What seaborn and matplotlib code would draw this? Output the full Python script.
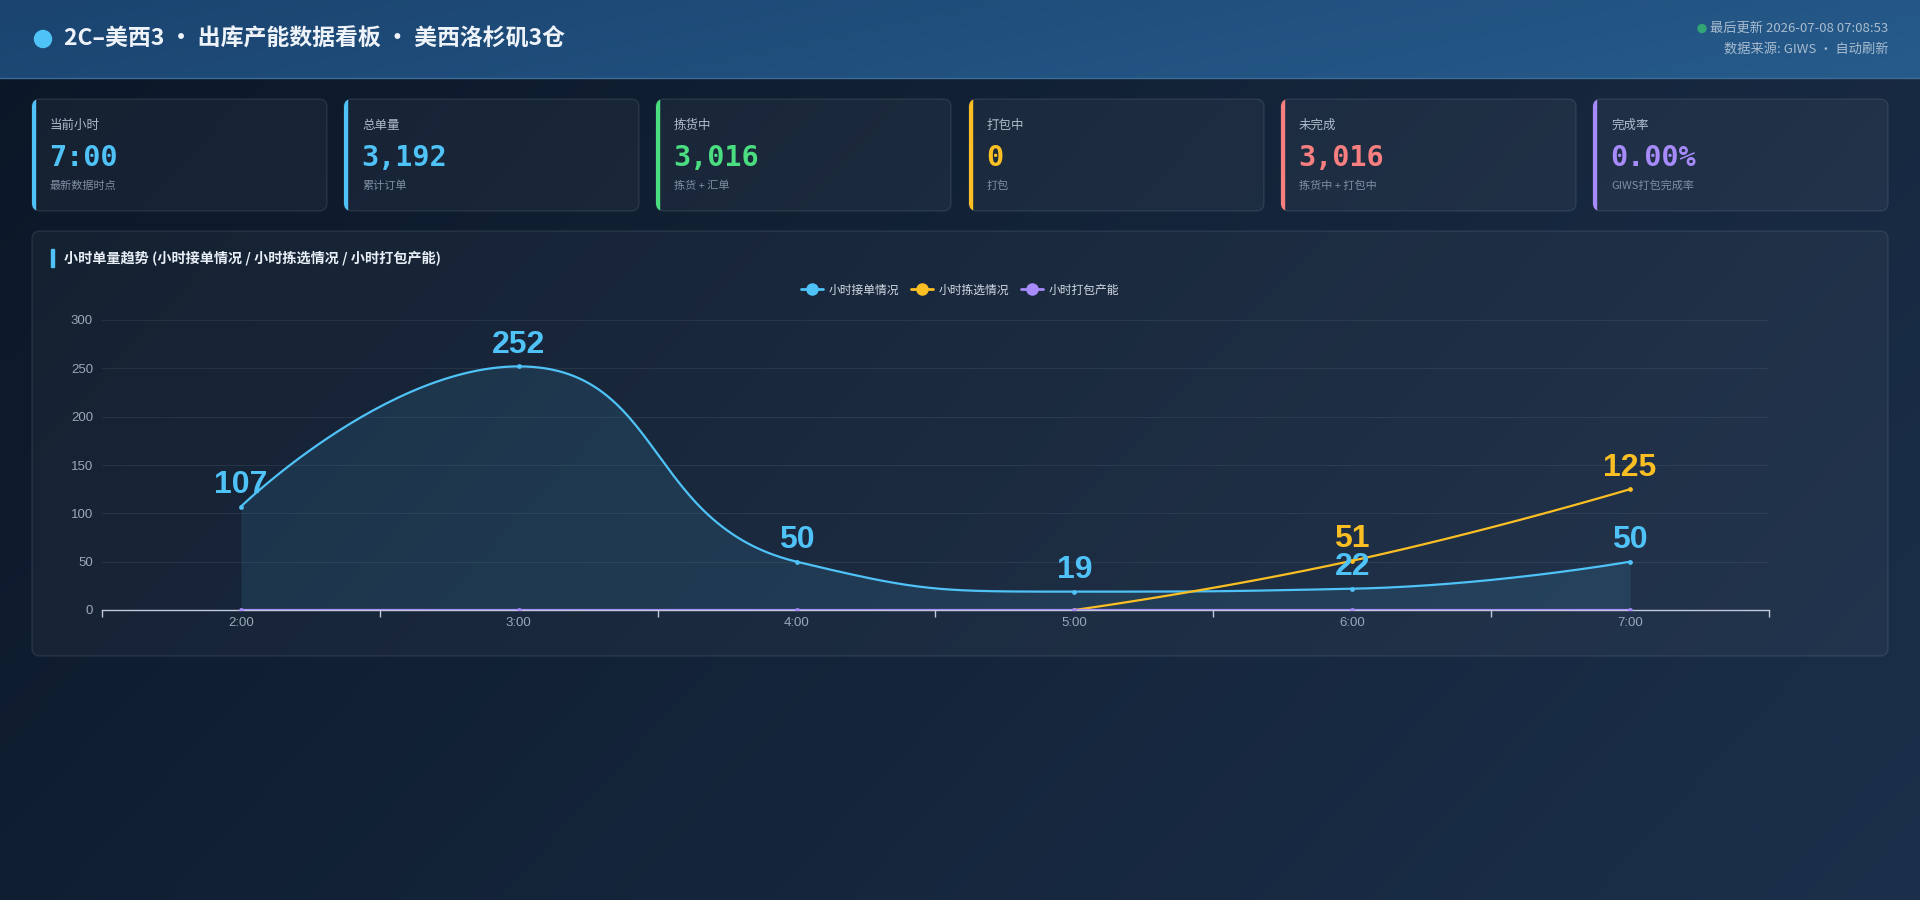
import math
import numpy as np
import pandas as pd
import matplotlib
matplotlib.use("Agg")
import matplotlib.pyplot as plt
import seaborn as sns
from matplotlib.patches import FancyBboxPatch, Rectangle, Circle
from matplotlib.lines import Line2D
from matplotlib.colors import to_rgb

# ---------------- data ----------------
hours = ["2:00", "3:00", "4:00", "5:00", "6:00", "7:00"]
orders_received = [107, 252, 50, 19, 22, 50]          # 小时接单情况
orders_picked = [None, None, None, 0, 51, 125]         # 小时拣选情况
orders_packed = [0, 0, 0, 0, 0, 0]                     # 小时打包产能
series_names = ["小时接单情况", "小时拣选情况", "小时打包产能"]
series_colors = ["#4fc3f7", "#fbbf24", "#a78bfa"]

kpi_titles = ["当前小时", "总单量", "拣货中", "打包中", "未完成", "完成率"]
kpi_values = ["7:00", "3,192", "3,016", "0", "3,016", "0.00%"]
kpi_notes = ["最新数据时点", "累计订单", "拣货 + 汇单", "打包", "拣货中 + 打包中", "GIWS打包完成率"]
kpi_colors = ["#4fc3f7", "#4fc3f7", "#4ade80", "#fbbf24", "#f87f7f", "#a78bfa"]

title_text = "2C–美西3 · 出库产能数据看板 · 美西洛杉矶3仓"
update_text = "最后更新 2026-07-08 07:08:53"
source_text = "数据来源: GIWS · 自动刷新"
panel_title = "小时单量趋势 (小时接单情况 / 小时拣选情况 / 小时打包产能)"
y_ticks = [0, 50, 100, 150, 200, 250, 300]

# ---------------- theme ----------------
sns.set_theme(style="dark")
plt.rcParams["font.family"] = ["Noto Sans CJK SC", "DejaVu Sans"]

W, H = 1920, 900
fig = plt.figure(figsize=(W / 100, H / 100), dpi=100)

# background layer in pixel coordinates
bg = fig.add_axes([0, 0, 1, 1])
bg.set_xlim(0, W)
bg.set_ylim(H, 0)
bg.set_axis_off()

def lerp_img(c0, c1, t):
    c0 = np.array(to_rgb(c0)); c1 = np.array(to_rgb(c1))
    return c0[None, None, :] * (1 - t[..., None]) + c1[None, None, :] * t[..., None]

gx, gy = np.meshgrid(np.linspace(0, 1, 240), np.linspace(0, 1, 120))
page = lerp_img("#0b1727", "#1c304b", np.clip(0.7 * gx + 0.3 * gy, 0, 1))
bg.imshow(page, extent=(0, W, H, 0), aspect="auto", zorder=0, interpolation="bicubic")
hx, hy = np.meshgrid(np.linspace(0, 1, 240), np.linspace(0, 1, 10))
head = lerp_img("#1b4470", "#265b8b", np.clip(0.85 * hx + 0.15 * hy, 0, 1))
bg.imshow(head, extent=(0, W, 78, 0), aspect="auto", zorder=1, interpolation="bicubic")
bg.plot([0, W], [78, 78], color="#3d6c96", lw=1, zorder=2)

# header
bg.add_patch(Circle((43, 39), 8.5, color="#4fc3f7", zorder=3))
bg.text(64, 39, title_text, fontsize=16.5, fontweight="bold", color="#eef3f9",
        va="center", ha="left", zorder=3)
bg.text(1888, 28, update_text, fontsize=9.5, color="#a9bccf", va="center", ha="right", zorder=3)
bg.add_patch(Circle((1702, 28.5), 4, color="#33a474", zorder=3))
bg.text(1888, 49.5, source_text, fontsize=9.5, color="#a9bccf", va="center", ha="right", zorder=3)

# KPI cards
card_x = [32, 344, 656, 969, 1281, 1593]
card_w, card_top, card_h = 295, 99, 112
for x0, t, v, n, c in zip(card_x, kpi_titles, kpi_values, kpi_notes, kpi_colors):
    card = FancyBboxPatch((x0, card_top), card_w, card_h,
                          boxstyle="round,pad=0,rounding_size=8",
                          facecolor=(1, 1, 1, 0.045), edgecolor=(1, 1, 1, 0.09),
                          lw=1, zorder=3)
    bg.add_patch(card)
    acc = Rectangle((x0 - 1, card_top - 1), 4, card_h + 2, color=c, zorder=4)
    bg.add_patch(acc)
    acc.set_clip_path(card)
    bg.text(x0 + 18, 125, t, fontsize=9, color="#aebbcb", va="center", ha="left", zorder=5)
    bg.text(x0 + 17, 157.5, v, fontsize=20.5, color=c, fontweight="bold",
            family=["DejaVu Sans Mono"], va="center", ha="left", zorder=5)
    bg.text(x0 + 18, 186, n, fontsize=8, color="#7f8fa4", va="center", ha="left", zorder=5)

# chart panel
panel = FancyBboxPatch((32, 231), 1856, 425, boxstyle="round,pad=0,rounding_size=8",
                       facecolor=(1, 1, 1, 0.035), edgecolor=(1, 1, 1, 0.09), lw=1, zorder=3)
bg.add_patch(panel)
bg.add_patch(Rectangle((51, 249), 3, 18, color="#4fc3f7", zorder=4))
bg.text(64, 258, panel_title, fontsize=10.2, fontweight="bold", color="#e8eef5",
        va="center", ha="left", zorder=5)

# ---------------- chart axes ----------------
ax = fig.add_axes([102 / W, 290 / H, 1667 / W, 290 / H])
ax.set_facecolor("none")
ax.set_xlim(-0.5, len(hours) - 0.5)
ax.set_ylim(0, 300)


def echarts_smooth(xd, yd, smooth=0.5, n=60):
    """ECharts-style bezier smoothing computed in pixel space; returns data coords."""
    pts = ax.transData.transform(np.column_stack([xd, yd]))
    segs = []
    cp0 = tuple(pts[0])
    for i in range(1, len(pts)):
        x, y = pts[i]
        px, py = pts[i - 1]
        if i == len(pts) - 1:
            cp1 = (x, y)
            ncp0 = None
        else:
            nx, ny = pts[i + 1]
            vx, vy = nx - px, ny - py
            lp = math.hypot(x - px, y - py)
            ln = math.hypot(nx - x, ny - y)
            r = ln / (ln + lp)
            ncx, ncy = x + vx * smooth * r, y + vy * smooth * r
            ncx = max(min(ncx, max(nx, x)), min(nx, x))
            ncy = max(min(ncy, max(ny, y)), min(ny, y))
            vx, vy = ncx - x, ncy - y
            c1x, c1y = x - vx * lp / ln, y - vy * lp / ln
            c1x = max(min(c1x, max(px, x)), min(px, x))
            c1y = max(min(c1y, max(py, y)), min(py, y))
            vx, vy = x - c1x, y - c1y
            ncp0 = (x + vx * ln / lp, y + vy * ln / lp)
            cp1 = (c1x, c1y)
        segs.append((pts[i - 1], cp0, cp1, (x, y)))
        cp0 = ncp0
    t = np.linspace(0, 1, n)[:, None]
    out = []
    for k, (p0, c0, c1, p1) in enumerate(segs):
        p0, c0, c1, p1 = map(np.array, (p0, c0, c1, p1))
        b = ((1 - t) ** 3) * p0 + 3 * ((1 - t) ** 2) * t * c0 + 3 * (1 - t) * t ** 2 * c1 + t ** 3 * p1
        out.append(b if k == 0 else b[1:])
    out = np.vstack(out)
    d = ax.transData.inverted().transform(out)
    return d[:, 0], d[:, 1]


# grid
for yv in y_ticks[1:]:
    ax.axhline(yv, color=(1, 1, 1, 0.07), lw=0.8, zorder=1)

all_series = [orders_received, orders_picked, orders_packed]
xs_idx = np.arange(len(hours))
for si, (vals, color) in enumerate(zip(all_series, series_colors)):
    mask = [v is not None for v in vals]
    xd = xs_idx[mask]
    yd = np.array([v for v in vals if v is not None], dtype=float)
    sx, sy = echarts_smooth(xd, yd)
    if si == 0:
        ax.fill_between(sx, sy, 0, color=color, alpha=0.11, lw=0, zorder=2)
    z = 5 if si == 2 else 4
    sns.lineplot(x=sx, y=sy, sort=False, estimator=None, color=color, lw=1.6, ax=ax,
                 zorder=z)
    sns.scatterplot(x=xd, y=yd, color=color, s=12, edgecolor=color, linewidth=0,
                    ax=ax, zorder=z + 0.5)
    if si < 2:
        for xv, yv in zip(xd, yd):
            if yv > 0:
                ax.annotate(f"{int(yv)}", (xv, yv), xytext=(0, 15.5), textcoords="offset points",
                            ha="center", va="center", fontsize=23, fontweight="bold",
                            family=["Liberation Sans"], color=color, zorder=8)

# axes styling
for s in ["top", "right", "left"]:
    ax.spines[s].set_visible(False)
ax.spines["bottom"].set_visible(True)
ax.spines["bottom"].set_color("#c3c9dc")
ax.spines["bottom"].set_linewidth(1.0)
ax.spines["bottom"].set_zorder(3)
ax.set_xticks(xs_idx)
ax.set_xticklabels(hours)
ax.set_xticks(np.arange(-0.5, len(hours), 1.0), minor=True)
ax.tick_params(axis="x", which="major", length=0, pad=5, labelsize=9.5, labelcolor="#9aa8ba")
ax.tick_params(axis="x", which="minor", length=5, width=1, color="#c3c9dc", direction="out",
               bottom=True)
ax.set_yticks(y_ticks)
ax.set_yticklabels([str(v) for v in y_ticks])
ax.tick_params(axis="y", length=0, pad=6.5, labelsize=9.5, labelcolor="#9aa8ba")
ax.grid(False)
ax.set_xlabel("")
ax.set_ylabel("")
for lab in ax.get_xticklabels() + ax.get_yticklabels():
    lab.set_family(["Liberation Sans", "DejaVu Sans"])

# legend
handles = [Line2D([0], [0], color=c, lw=2, marker="o", markersize=8, markerfacecolor=c,
                  markeredgecolor=c) for c in series_colors]
fig.legend(handles, series_names, loc="center", bbox_to_anchor=(960 / W, 1 - 290 / H),
           ncol=3, frameon=False, fontsize=8.5, labelcolor="#d3dbe6", handlelength=1.9,
           handletextpad=0.45, columnspacing=1.0)

fig.savefig("out.png", dpi=100, facecolor="#0f1c2d")
